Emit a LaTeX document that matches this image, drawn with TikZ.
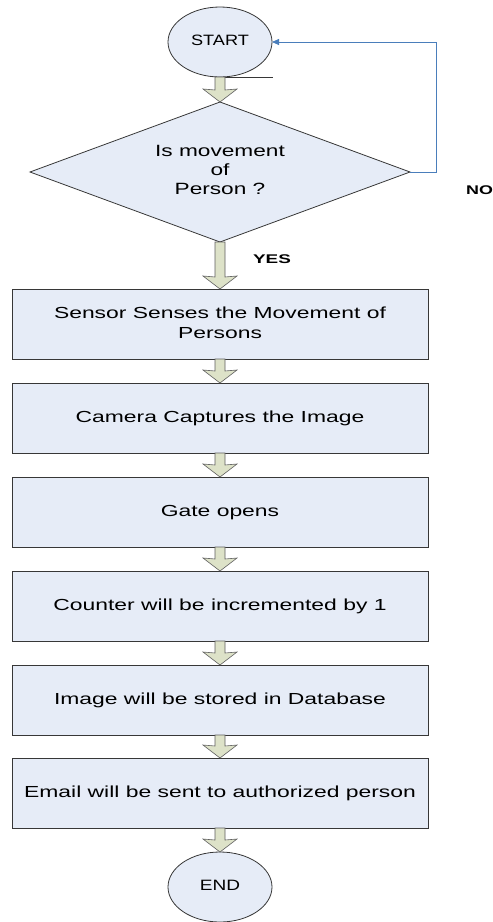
\documentclass[tikz,border=0pt]{standalone}
\usepackage{fontspec}
\setmainfont{Liberation Sans}
\usepackage{graphicx}
\usetikzlibrary{shapes.geometric,arrows.meta,calc}
\definecolor{shapefill}{RGB}{230,236,247}
\definecolor{shapeline}{RGB}{55,55,55}
\definecolor{arrowfill}{RGB}{221,226,200}
\definecolor{arrowline}{RGB}{95,95,95}
\definecolor{loopblue}{RGB}{74,126,187}
\newcommand{\wtext}[2]{\scalebox{#1}[1]{\begin{tabular}{@{}c@{}}#2\end{tabular}}}
\newcommand{\blockarrow}[2]{%
  \path[barrow] let \p1=(#1.south), \p2=(#2.north) in
  (\x1-5pt,\y1) -- (\x1+5pt,\y1) -- (\x1+5pt,\y2+12pt) -- (\x1+17pt,\y2+13pt) --
  (\x1,\y2) -- (\x1-17pt,\y2+13pt) -- (\x1-5pt,\y2+12pt) -- cycle;}
\tikzset{
  base/.style={draw=shapeline, fill=shapefill, line width=0.8pt, inner sep=0pt, outer sep=0pt},
  procbox/.style={base, rectangle, minimum width=416pt, minimum height=70pt,
    font=\fontsize{16}{20}\selectfont},
  term/.style={base, ellipse, minimum width=104pt, minimum height=70pt,
    font=\fontsize{15}{18}\selectfont},
  decision/.style={base, diamond, minimum width=380pt, minimum height=140pt, aspect=2.714,
    font=\fontsize{16.3}{19}\selectfont},
  barrow/.style={draw=arrowline, fill=arrowfill, line width=0.6pt, line join=miter},
  lbl/.style={font=\fontsize{12.6}{14}\selectfont\bfseries, inner sep=0pt},
  loopline/.style={draw=loopblue, line width=0.8pt, -{Triangle[length=7pt,width=6pt]}},
  stubline/.style={draw=shapeline, line width=0.8pt}
}
\begin{document}
\begin{tikzpicture}[x=1pt,y=-1pt]
\useasboundingbox[fill=white] (0,0) rectangle (493,922);
% nodes
\node[term] (start) at (220,42) {\wtext{1.21}{START}};
\node[decision] (dec) at (220,172) {\wtext{1.39}{Is movement\\of\\Person ?}};
\node[procbox] (b1) at (220,324) {\wtext{1.43}{Sensor Senses the Movement of\\Persons}};
\node[procbox] (b2) at (220,418) {\wtext{1.43}{Camera Captures the Image}};
\node[procbox] (b3) at (220,512) {\wtext{1.43}{Gate opens}};
\node[procbox] (b4) at (220,606) {\wtext{1.43}{Counter will be incremented by 1}};
\node[procbox] (b5) at (220,700) {\wtext{1.43}{Image will be stored in Database}};
\node[procbox] (b6) at (220,793) {\wtext{1.43}{Email will be sent to authorized person}};
\node[term] (end) at (220,887) {\wtext{1.27}{END}};
\node[lbl] (yes) at (272,259) {\scalebox{1.5}[1]{YES}};
\node[lbl, anchor=west] (no) at (466,190) {\scalebox{1.42}[1]{NO}};
% stub line under START
\coordinate (stub) at (273,77);
\draw[stubline] (start.south) -- (stub);
% block arrows
\blockarrow{start}{dec}
\blockarrow{dec}{b1}
\blockarrow{b1}{b2}
\blockarrow{b2}{b3}
\blockarrow{b3}{b4}
\blockarrow{b4}{b5}
\blockarrow{b5}{b6}
\blockarrow{b6}{end}
% NO loop
\coordinate (c1) at (436,172);
\coordinate (c2) at (436,42);
\draw[loopline] (dec.east) -- (c1) -- (c2) -- (start.east);
\end{tikzpicture}
\end{document}
